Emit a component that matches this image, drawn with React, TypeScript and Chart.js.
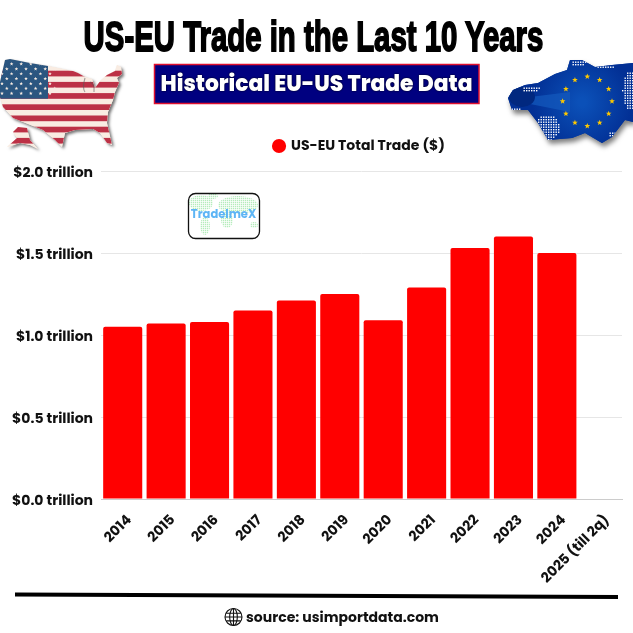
import React, { useEffect, useRef } from "react";
import { Chart, registerables } from "chart.js";

Chart.register(...registerables);

const years = ["2014","2015","2016","2017","2018","2019","2020","2021","2022","2023","2024","2025 (till 2q)"];
const totalTrade = [1.05,1.07,1.08,1.15,1.21,1.25,1.09,1.29,1.53,1.60,1.50,null];
const seriesName = "US-EU Total Trade ($)";
const titleText = "US-EU Trade in the Last 10 Years";
const bannerText = "Historical EU-US Trade Data";
const sourceText = "source: usimportdata.com";
const logoText = "TradeImeX";
const FONT = "Poppins, Inter, 'Noto Sans', sans-serif";

function star(c: CanvasRenderingContext2D, x: number, y: number, r: number) {
  c.beginPath();
  for (let i = 0; i < 10; i++) {
    const a = -Math.PI / 2 + (i * Math.PI) / 5;
    const q = i % 2 ? r * 0.42 : r;
    c.lineTo(x + q * Math.cos(a), y + q * Math.sin(a));
  }
  c.closePath();
  c.fill();
}
function trace(c: CanvasRenderingContext2D, pts: number[][]) {
  pts.forEach((p, i) => (i ? c.lineTo(p[0], p[1]) : c.moveTo(p[0], p[1])));
  c.closePath();
}
function poly(c: CanvasRenderingContext2D, pts: number[][]) {
  c.beginPath();
  trace(c, pts);
}
const usaOutline = [[5,60],[10,59],[30,63],[48,66],[73,71],[78,73],[85,77],[92,79],[95,88],[101,80],[107,75],[115,71],[117,65],[121,67],[122,74],[117,78],[119,83],[115,92],[113,100],[108,112],[107,123],[112,145],[107,143],[100,133],[93,129],[75,130],[65,133],[62,147],[55,140],[43,130],[33,126],[13,118],[3,107],[0,97],[0,82]];
const alaska = [[13,132],[18,127],[27,128],[30,140],[38,149],[30,145],[20,143],[7,147],[17,138]];
function drawUSA(c: CanvasRenderingContext2D) {
  const cream = "#f9ece2";
  c.save();
  c.shadowColor = "rgba(0,0,0,0.55)"; c.shadowBlur = 3; c.shadowOffsetX = 2; c.shadowOffsetY = 2;
  c.fillStyle = cream;
  poly(c, usaOutline); c.fill();
  poly(c, alaska); c.fill();
  c.restore();
  c.save();
  c.beginPath();
  trace(c, usaOutline); trace(c, alaska);
  c.clip();
  c.fillStyle = cream; c.fillRect(0, 55, 130, 100);
  c.fillStyle = "#bc3146";
  for (let y = 70.7; y < 150; y += 11.2) c.fillRect(0, y, 130, 5.7);
  c.fillStyle = "#2b5680"; c.fillRect(0, 55, 48, 43.7);
  c.fillStyle = cream;
  for (let r = 0; r < 7; r++) for (let i = 0; i < 6; i++) star(c, 2 + i * 9.6 + (r % 2) * 4.8, 64 + r * 4.9, 1.9);
  c.restore();
  c.strokeStyle = "rgba(90,90,90,0.55)"; c.lineWidth = 1.1;
  c.beginPath(); c.moveTo(85, 78); c.quadraticCurveTo(82, 88, 85, 92); c.moveTo(90, 82); c.quadraticCurveTo(95, 84, 94, 92); c.stroke();
}
const euOutline = [[508,98],[513,90],[525,85],[538,83],[555,74],[567,70],[570,60],[582,60],[595,67],[612,65],[633,63],[633,122],[625,120],[612,137],[602,143],[585,133],[572,138],[548,140],[538,123],[528,110],[512,110]];
const euSpeckleZones = [[546,127,13,13],[530,88,9,3],[630,90,8,20],[578,62,8,3],[614,134,7,4],[515,108,6,2],[605,66,10,2]];
function drawEU(c: CanvasRenderingContext2D) {
  c.save();
  c.shadowColor = "rgba(0,0,0,0.5)"; c.shadowBlur = 5; c.shadowOffsetX = 2; c.shadowOffsetY = 4;
  c.fillStyle = "#0a3a9c"; poly(c, euOutline); c.fill();
  c.restore();
  c.save();
  poly(c, euOutline); c.clip();
  const g = c.createRadialGradient(582, 102, 4, 582, 102, 50);
  g.addColorStop(0, "#0b50b8"); g.addColorStop(1, "#023095");
  c.fillStyle = g; c.fillRect(500, 50, 133, 100);
  c.fillStyle = "rgba(20,90,190,0.7)"; poly(c, [[530,97],[570,92],[570,112],[530,104]]); c.fill();
  c.fillStyle = "#01287f"; c.beginPath(); c.ellipse(522, 97, 13, 10, 0, 0, Math.PI * 2); c.fill();
  c.fillStyle = "#fff";
  euSpeckleZones.forEach(([x, y, rx, ry]) => {
    for (let px = x - rx; px <= x + rx; px += 2.5) for (let py = y - ry; py <= y + ry; py += 2.5) {
      const d = ((px - x) / rx) ** 2 + ((py - y) / ry) ** 2;
      if (d <= 1) c.fillRect(px, py, 1.4, 1.4);
    }
  });
  c.restore();
  c.fillStyle = "#fdc800";
  const cx = 587.3, cy = 101.3, r = 24.7;
  for (let i = 0; i < 12; i++) {
    const a = (i * Math.PI) / 6;
    star(c, cx + r * Math.cos(a), cy + r * Math.sin(a), 3);
  }
}
const logoLand = [[201,203,12,8],[213,196,5,3],[205,226,5,9],[238,205,20,9],[227,220,6,8],[254,225,4,3]];
function drawLogo(c: CanvasRenderingContext2D) {
  c.save();
  c.beginPath(); c.roundRect(188.5, 193.5, 71, 45, 7);
  c.fillStyle = "#fff"; c.fill();
  c.save();
  c.beginPath();
  logoLand.forEach(([x, y, rx, ry]) => { c.moveTo(x + rx, y); c.ellipse(x, y, rx, ry, 0, 0, Math.PI * 2); });
  c.clip();
  c.fillStyle = "#b5ecbc";
  for (let x = 189; x < 260; x += 2) for (let y = 194; y < 238; y += 2) c.fillRect(x, y, 1.3, 1.3);
  c.restore();
  c.beginPath(); c.roundRect(188.5, 193.5, 71, 45, 7);
  c.lineWidth = 1.3; c.strokeStyle = "#111"; c.stroke();
  c.fillStyle = "#5db5f5";
  c.font = `700 11.5px ${FONT}`; c.textAlign = "center"; c.textBaseline = "middle";
  c.fillText(logoText, 223.5, 215);
  c.restore();
}
function drawGlobe(c: CanvasRenderingContext2D) {
  const x = 233.5, y = 617, r = 8.5;
  c.save();
  c.strokeStyle = "#111"; c.lineWidth = 1.1;
  c.beginPath(); c.arc(x, y, r, 0, Math.PI * 2); c.stroke();
  c.beginPath(); c.ellipse(x, y, r * 0.45, r, 0, 0, Math.PI * 2); c.stroke();
  c.beginPath(); c.moveTo(x, y - r); c.lineTo(x, y + r); c.moveTo(x - r, y); c.lineTo(x + r, y);
  c.moveTo(x - r * 0.85, y - r * 0.45); c.lineTo(x + r * 0.85, y - r * 0.45);
  c.moveTo(x - r * 0.85, y + r * 0.45); c.lineTo(x + r * 0.85, y + r * 0.45); c.stroke();
  c.restore();
}
const decorations = {
  id: "decorations",
  afterLayout(chart: any) {
    chart.legend.left -= 2;
    chart.legend.right -= 2;
    chart.legend.top -= 8;
    chart.legend.bottom -= 8;
  },
  beforeDraw(chart: any) {
    const c = chart.ctx as CanvasRenderingContext2D;
    c.save();
    c.fillStyle = "#fff"; c.fillRect(0, 0, chart.width, chart.height);
    drawUSA(c); drawEU(c);
    c.fillStyle = "#000080"; c.strokeStyle = "#e0102f"; c.lineWidth = 1.5;
    c.fillRect(154.5, 64.5, 324.5, 39); c.strokeRect(154.5, 64.5, 324.5, 39);
    poly(c, [[15,592.5],[618,595],[618,599],[15,596.5]]);
    c.fillStyle = "#000"; c.fill();
    drawGlobe(c);
    c.restore();
  },
  afterDatasetsDraw(chart: any) { drawLogo(chart.ctx); },
};

export default function App() {
  const ref = useRef<HTMLCanvasElement>(null);
  useEffect(() => {
    document.body.style.margin = "0";
    const chart = new Chart(ref.current!, {
      type: "bar",
      plugins: [decorations],
      data: {
        labels: years,
        datasets: [{
          label: seriesName, data: totalTrade, backgroundColor: "#ff0000",
          categoryPercentage: 1, barPercentage: 0.9,
          borderRadius: { topLeft: 2, topRight: 2, bottomLeft: 0, bottomRight: 0 }, borderSkipped: false,
        }],
      },
      options: {
        responsive: false, animation: false, devicePixelRatio: 1,
        layout: { padding: { top: 137, right: 11, left: 0, bottom: 0 } },
        plugins: {
          tooltip: { enabled: false },
          legend: {
            position: "top", fullSize: false,
            labels: { usePointStyle: true, pointStyle: "circle", boxWidth: 10, boxHeight: 10, padding: 10, color: "#111", font: { family: FONT, size: 14, weight: 700 } },
          },
        },
        scales: {
          x: {
            afterFit(s: any) { s.height = 134; },
            grid: { display: false, drawTicks: false },
            border: { color: "#cccccc" },
            ticks: { minRotation: 45, maxRotation: 45, padding: 13, labelOffset: 7, color: "#111", font: { family: FONT, size: 14, weight: 700 } },
          },
          y: {
            min: 0, max: 2,
            afterFit(s: any) { s.width = 101; },
            grid: { color: "#e6e6e6", drawTicks: false },
            border: { display: false },
            ticks: { stepSize: 0.5, padding: 8, labelOffset: 2, color: "#111", font: { family: FONT, size: 14, weight: 700 }, callback: (v: any) => `$${Number(v).toFixed(1)} trillion` },
          },
        },
      },
    } as any);
    return () => chart.destroy();
  }, []);
  const abs: React.CSSProperties = { position: "absolute", left: 0, width: 633, textAlign: "center", whiteSpace: "nowrap", margin: 0 };
  return (
    <div style={{ position: "relative", width: 633, height: 633, background: "#fff", overflow: "hidden" }}>
      <canvas ref={ref} width={633} height={633} style={{ display: "block", width: 633, height: 633 }} />
      <div style={{ ...abs, left: -100, width: 827, top: 11, fontFamily: "'Liberation Sans', sans-serif", fontWeight: 700, fontSize: 43, lineHeight: "50px", color: "#000", WebkitTextStroke: "1.8px #000", transform: "scaleX(0.683)" }}>{titleText}</div>
      <div style={{ ...abs, top: 68, fontFamily: FONT, fontWeight: 800, fontSize: 21.8, lineHeight: "32px", color: "#fff", textShadow: "0 0 2px #000" }}>{bannerText}</div>
      <div style={{ ...abs, left: 26, top: 605, fontFamily: FONT, fontWeight: 700, fontSize: 14, lineHeight: "24px", color: "#111" }}>{sourceText}</div>
    </div>
  );
}
